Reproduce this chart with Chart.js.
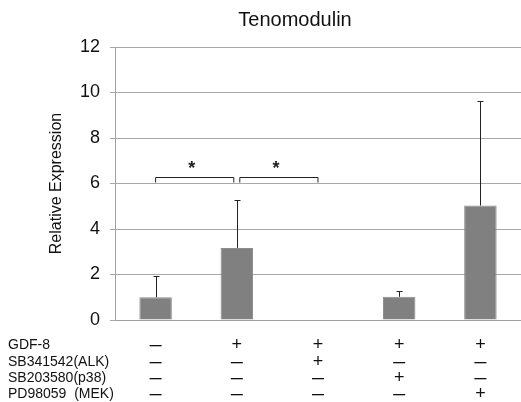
<!DOCTYPE html>
<html>
<head>
<meta charset="utf-8">
<script src="https://cdn.jsdelivr.net/npm/chart.js@4/dist/chart.umd.min.js"></script>
<style>
  body { margin: 0; background: #fff; }
  #wrap { width: 521px; height: 402px; }
</style>
</head>
<body>
<div id="wrap"><canvas id="chart" width="521" height="402"></canvas></div>
<script>
// ---- data ----
const GROUPS = ['ctrl', 'GDF-8', 'GDF-8+ALK', 'GDF-8+p38', 'GDF-8+MEK'];
const MEANS = [1.0, 3.17, 0, 1.02, 5.03];
const ERR_TOP = [1.93, 5.28, 0, 1.27, 9.62];
const Y_TICKS = [0, 2, 4, 6, 8, 10, 12];

const ROW_LABELS = ['GDF-8', 'SB341542(ALK)', 'SB203580(p38)', 'PD98059  (MEK)'];
const ROW_SIGNS = [
    ['-', '+', '+', '+', '+'],
    ['-', '-', '+', '-', '-'],
    ['-', '-', '-', '+', '-'],
    ['-', '-', '-', '-', '+']
];

// significance brackets: [from group, to group, height]
const BRACKETS = [[0, 1, 6.3], [1, 2, 6.3]];

const FONT = '"Liberation Sans", Arial, sans-serif';

// ---- extra drawing (error bars, brackets, table, title) ----
const extras = {
    id: 'extras',
    afterDatasetsDraw(chart) {
        const ctx = chart.ctx;
        const x = chart.scales.x;
        const y = chart.scales.y;
        ctx.save();

        // error bars
        ctx.strokeStyle = '#222';
        ctx.lineWidth = 1;
        MEANS.forEach((m, i) => {
            if (ERR_TOP[i] <= m) return;
            const cx = Math.round(x.getPixelForValue(i)) + 0.5;
            const y0 = y.getPixelForValue(m);
            const y1 = Math.round(y.getPixelForValue(ERR_TOP[i])) + 0.5;
            ctx.beginPath();
            ctx.moveTo(cx, y0);
            ctx.lineTo(cx, y1);
            ctx.moveTo(cx - 3, y1);
            ctx.lineTo(cx + 3, y1);
            ctx.stroke();
        });

        // brackets + stars
        BRACKETS.forEach(([a, b, h]) => {
            const xa = x.getPixelForValue(a) + (a === 1 ? 3 : 0);
            const xb = x.getPixelForValue(b) - (b === 1 ? 3 : 0);
            const yt = Math.round(y.getPixelForValue(h)) + 0.5;
            const yb = y.getPixelForValue(6.0) - 1;
            ctx.beginPath();
            ctx.moveTo(xa, yb);
            ctx.lineTo(xa, yt);
            ctx.lineTo(xb, yt);
            ctx.lineTo(xb, yb);
            ctx.stroke();
            ctx.fillStyle = '#222';
            ctx.font = 'bold 18px ' + FONT;
            ctx.textAlign = 'center';
            ctx.textBaseline = 'middle';
            ctx.fillText('*', (xa + xb) / 2 - 3, yt - 8);
        });

        // treatment table under the axis
        ctx.fillStyle = '#111';
        ctx.textBaseline = 'middle';
        const rowY = [345, 362, 378, 394];
        ROW_LABELS.forEach((lab, r) => {
            ctx.font = '14px ' + FONT;
            ctx.textAlign = 'left';
            ctx.fillText(lab, 8, rowY[r]);
            ctx.textAlign = 'center';
            ROW_SIGNS[r].forEach((s, i) => {
                const cx = x.getPixelForValue(i);
                if (s === '+') {
                    ctx.font = '18px ' + FONT;
                    ctx.fillText('+', cx, rowY[r]);
                } else {
                    ctx.fillRect(cx - 6, rowY[r], 12, 1.3);
                }
            });
        });

        // title
        ctx.font = '20px ' + FONT;
        ctx.fillStyle = '#111';
        ctx.textAlign = 'center';
        ctx.fillText('Tenomodulin', 295, 20);

        ctx.restore();
    }
};

new Chart(document.getElementById('chart'), {
    type: 'bar',
    data: {
        labels: GROUPS,
        datasets: [{
            data: MEANS,
            backgroundColor: '#808080',
            borderColor: '#8c8c8c',
            borderWidth: 1,
            barPercentage: 0.4,
            categoryPercentage: 1.0
        }]
    },
    options: {
        responsive: false,
        animation: false,
        layout: { padding: { left: 47, top: 47, bottom: 82, right: 0 } },
        plugins: {
            legend: { display: false },
            tooltip: { enabled: false }
        },
        scales: {
            x: {
                afterFit: s => { s.height = 0; },
                ticks: { display: false },
                grid: { display: false },
                border: { display: true, color: '#a0a0a0' }
            },
            y: {
                min: 0,
                max: 12,
                afterBuildTicks: s => { s.ticks = Y_TICKS.map(v => ({ value: v })); },
                afterFit: s => { s.width = 68; },
                ticks: { color: '#111', padding: 10, font: { family: FONT, size: 18 } },
                grid: { color: '#a8a8a8', tickLength: 5 },
                border: { color: '#a0a0a0' },
                title: {
                    display: true,
                    text: 'Relative Expression',
                    color: '#111',
                    font: { family: FONT, size: 16 },
                    padding: 0
                }
            }
        }
    },
    plugins: [extras]
});
</script>
</body>
</html>
